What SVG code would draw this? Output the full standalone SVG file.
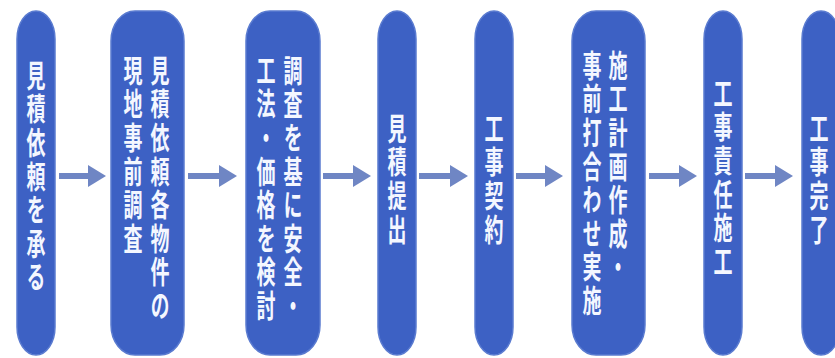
<svg xmlns="http://www.w3.org/2000/svg" width="835" height="358" viewBox="0 0 835 358">
<defs>
<style>
.box{fill:#3d61c4;stroke:#5a7bd0;stroke-width:1.5}
.t{writing-mode:vertical-rl;font-family:"Noto Sans CJK JP","Noto Sans CJK SC",sans-serif;font-size:19px;font-weight:bold;letter-spacing:2px;fill:#f4f7ff}
.arr{stroke:#6f86c4;stroke-width:6;fill:none;marker-end:url(#ah)}
</style>
<marker id="ah" markerUnits="userSpaceOnUse" markerWidth="20" markerHeight="24" refX="8" refY="11" orient="auto">
<path d="M0,0 L18,11 L0,22 Z" fill="#6f86c4"/>
</marker>
</defs>
<rect width="835" height="358" fill="#ffffff"/>
<g id="connectors">
<line class="arr" x1="59" y1="176" x2="96" y2="176"/>
<line class="arr" x1="188" y1="176" x2="227" y2="176"/>
<line class="arr" x1="323" y1="176" x2="361" y2="176"/>
<line class="arr" x1="419" y1="176" x2="458" y2="176"/>
<line class="arr" x1="516" y1="176" x2="553" y2="176"/>
<line class="arr" x1="649" y1="176" x2="687" y2="176"/>
<line class="arr" x1="745" y1="176" x2="783" y2="176"/>
</g>
<g id="n1">
<rect class="box" x="17" y="11" width="38" height="344" rx="19" ry="28"/>
<text class="t" transform="translate(36,60) scale(1,1.6)">見積依頼を承る</text>
</g>
<g id="n2">
<rect class="box" x="111" y="11" width="73" height="344" rx="24" ry="30"/>
<text class="t" transform="translate(160,55) scale(1,1.6)">見積依頼各物件の</text>
<text class="t" transform="translate(133,55) scale(1,1.6)">現地事前調査</text>
</g>
<g id="n3">
<rect class="box" x="246" y="11" width="74" height="344" rx="24" ry="30"/>
<text class="t" transform="translate(293,55) scale(1,1.6)">調査を基に安全・</text>
<text class="t" transform="translate(266,55) scale(1,1.6)">工法・価格を検討</text>
</g>
<g id="n4">
<rect class="box" x="378" y="11" width="38" height="344" rx="19" ry="28"/>
<text class="t" transform="translate(397,113) scale(1,1.6)">見積提出</text>
</g>
<g id="n5">
<rect class="box" x="475" y="11" width="38" height="344" rx="19" ry="28"/>
<text class="t" transform="translate(494,113) scale(1,1.6)">工事契約</text>
</g>
<g id="n6">
<rect class="box" x="572" y="11" width="73" height="344" rx="24" ry="30"/>
<text class="t" transform="translate(618,50) scale(1,1.6)">施工計画作成・</text>
<text class="t" transform="translate(592,50) scale(1,1.6)">事前打合わせ実施</text>
</g>
<g id="n7">
<rect class="box" x="704" y="11" width="38" height="344" rx="19" ry="28"/>
<text class="t" transform="translate(723,78) scale(1,1.6)">工事責任施工</text>
</g>
<g id="n8">
<rect class="box" x="802" y="11" width="38" height="344" rx="19" ry="28"/>
<text class="t" transform="translate(819,113) scale(1,1.6)">工事完了</text>
</g>
</svg>
